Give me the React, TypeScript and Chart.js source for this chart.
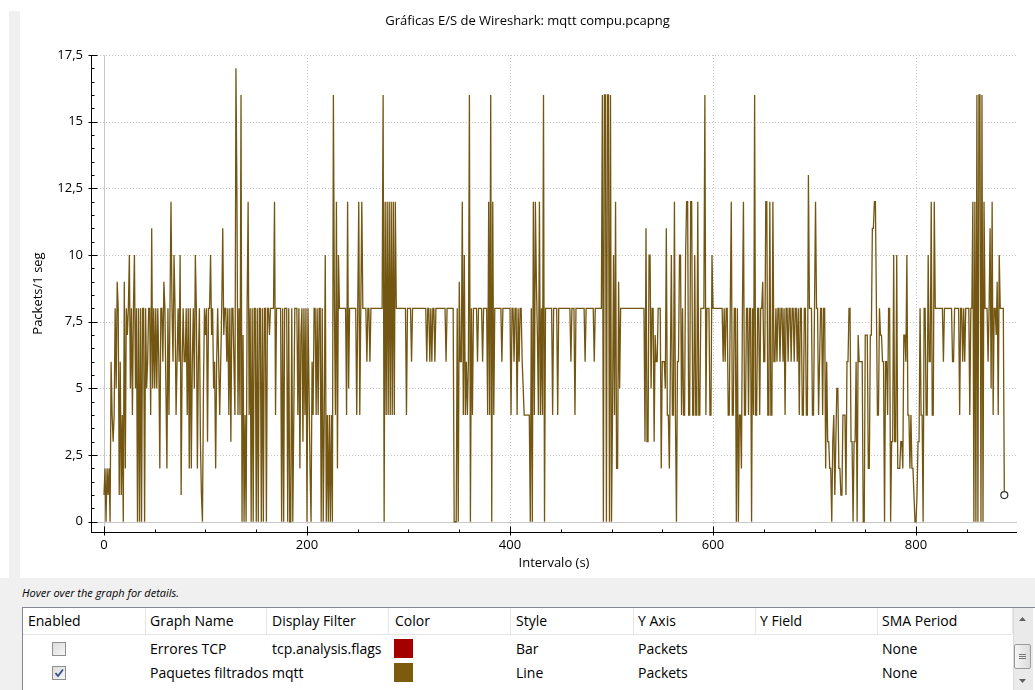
import React, { useEffect, useRef } from 'react';
import { Chart, registerables } from 'chart.js';

Chart.register(...registerables);

// ---- Data (packets per 1 s interval, "mqtt" filter) ----
const PACKETS_000_153 = [
  1, 2, 0, 2, 1, 2, 0, 6, 4, 3,
  4, 8, 5, 9, 8, 1, 6, 1, 4, 0,
  9, 2, 8, 7, 8, 10, 5, 8, 4, 8,
  10, 5, 8, 0, 8, 0, 8, 0, 8, 8,
  0, 8, 5, 6, 8, 8, 4, 11, 5, 8,
  5, 8, 5, 8, 6, 2, 8, 8, 6, 9,
  8, 5, 2, 8, 4, 8, 12, 8, 6, 10,
  8, 4, 6, 8, 6, 10, 1, 6, 8, 6,
  6, 8, 4, 8, 2, 8, 2, 6, 8, 5,
  10, 8, 2, 6, 8, 3, 1, 0, 5, 8,
  7, 8, 3, 8, 8, 10, 7, 8, 5, 6,
  2, 6, 8, 6, 4, 6, 8, 11, 7, 8,
  8, 6, 8, 4, 8, 3, 8, 8, 6, 4,
  17, 12, 4, 8, 4, 16, 0, 7, 0, 4,
  0, 8, 12, 4, 8, 0, 8, 0, 8, 8,
  0, 8, 0, 8,
];
const PACKETS_154_305 = [
  8, 0, 8, 0, 8, 8, 0, 8, 8, 7,
  8, 8, 8, 8, 12, 4, 8, 8, 8, 8,
  8, 0, 8, 0, 8, 8, 8, 0, 8, 0,
  0, 8, 0, 4, 8, 8, 8, 4, 8, 2,
  7, 8, 3, 8, 4, 8, 0, 8, 5, 2,
  0, 6, 4, 8, 8, 4, 8, 4, 8, 8,
  0, 8, 0, 4, 10, 0, 4, 0, 4, 0,
  4, 0, 16, 8, 4, 12, 2, 10, 8, 8,
  8, 8, 8, 8, 8, 4, 12, 5, 8, 8,
  8, 8, 8, 8, 8, 4, 8, 12, 4, 8,
  12, 8, 8, 8, 8, 6, 8, 8, 6, 8,
  8, 8, 8, 8, 8, 8, 8, 8, 8, 8,
  8, 16, 0, 12, 4, 12, 4, 12, 4, 12,
  4, 12, 4, 12, 8, 8, 8, 8, 8, 8,
  8, 8, 8, 8, 4, 8, 8, 8, 8, 6,
  8, 8,
];
const PACKETS_306_457 = [
  8, 8, 8, 8, 8, 8, 8, 8, 8, 8,
  8, 8, 6, 8, 8, 6, 8, 6, 8, 8,
  6, 8, 8, 8, 8, 8, 8, 8, 8, 8,
  8, 6, 8, 8, 8, 8, 8, 8, 8, 0,
  0, 0, 8, 0, 9, 6, 6, 12, 4, 10,
  4, 6, 4, 6, 16, 0, 8, 4, 8, 8,
  8, 8, 6, 8, 8, 8, 8, 6, 8, 8,
  8, 8, 4, 12, 4, 16, 0, 12, 4, 8,
  8, 8, 8, 8, 8, 8, 6, 8, 8, 8,
  8, 8, 8, 8, 8, 4, 8, 8, 6, 8,
  8, 4, 8, 6, 8, 8, 6, 5, 4, 4,
  4, 4, 4, 4, 0, 8, 0, 12, 4, 12,
  9, 7, 4, 12, 4, 8, 4, 16, 0, 8,
  8, 8, 8, 8, 8, 8, 4, 8, 8, 8,
  8, 4, 8, 8, 8, 8, 8, 8, 8, 8,
  8, 8,
];
const PACKETS_458_607 = [
  8, 8, 6, 8, 8, 8, 4, 8, 8, 8,
  8, 8, 8, 8, 8, 8, 6, 8, 8, 8,
  8, 8, 8, 8, 8, 6, 8, 8, 8, 8,
  8, 8, 8, 16, 0, 16, 16, 0, 16, 16,
  0, 16, 0, 4, 10, 4, 12, 2, 2, 9,
  5, 8, 8, 8, 8, 8, 8, 8, 8, 8,
  8, 8, 8, 8, 8, 8, 8, 8, 8, 8,
  8, 8, 8, 8, 8, 3, 11, 3, 3, 10,
  10, 5, 8, 8, 3, 7, 6, 6, 8, 8,
  8, 2, 6, 6, 6, 5, 11, 4, 4, 2,
  6, 10, 4, 4, 12, 4, 0, 6, 6, 10,
  10, 4, 8, 4, 4, 10, 12, 12, 4, 4,
  12, 12, 4, 4, 10, 4, 4, 12, 4, 4,
  8, 8, 8, 8, 16, 4, 8, 8, 8, 4,
  4, 10, 8, 8, 8, 8, 8, 8, 8, 8,
];
const PACKETS_608_757 = [
  8, 8, 6, 8, 6, 8, 8, 4, 4, 8,
  12, 4, 4, 8, 8, 0, 8, 0, 4, 4,
  2, 8, 12, 4, 4, 8, 8, 4, 8, 8,
  0, 8, 4, 16, 4, 4, 8, 8, 4, 8,
  8, 9, 6, 6, 12, 12, 4, 4, 12, 4,
  4, 12, 6, 6, 8, 6, 8, 8, 6, 8,
  8, 6, 8, 4, 8, 8, 6, 8, 8, 6,
  8, 8, 6, 8, 8, 6, 8, 4, 8, 8,
  4, 4, 8, 8, 4, 4, 13, 8, 8, 8,
  4, 4, 8, 12, 8, 8, 4, 6, 8, 8,
  4, 8, 8, 2, 6, 3, 3, 2, 2, 0,
  3, 4, 1, 3, 5, 5, 2, 2, 1, 1,
  4, 4, 4, 1, 6, 6, 8, 8, 3, 3,
  0, 3, 3, 6, 0, 7, 6, 6, 6, 6,
  0, 0, 7, 7, 7, 2, 2, 7, 7, 11,
];
const PACKETS_758_887 = [
  11, 12, 12, 8, 4, 4, 8, 7, 7, 6,
  6, 0, 6, 6, 4, 8, 8, 0, 3, 3,
  10, 3, 3, 10, 2, 2, 2, 3, 3, 2,
  7, 7, 6, 10, 4, 4, 2, 4, 2, 2,
  1, 0, 0, 1, 3, 3, 8, 4, 4, 0,
  8, 8, 4, 4, 10, 6, 6, 12, 4, 4,
  12, 8, 8, 8, 8, 8, 8, 8, 8, 6,
  8, 8, 8, 8, 8, 8, 8, 8, 6, 6,
  8, 8, 8, 8, 8, 4, 8, 8, 6, 8,
  6, 8, 8, 8, 8, 4, 8, 8, 12, 0,
  12, 0, 16, 0, 16, 16, 0, 16, 0, 12,
  8, 8, 8, 6, 8, 11, 5, 12, 4, 8,
  8, 7, 9, 4, 10, 8, 8, 8, 8, 1,
];

const X_TICKS = [0, 200, 400, 600, 800];
const Y_TICKS = [0, 2.5, 5, 7.5, 10, 12.5, 15, 17.5];

const PACKETS = [
  ...PACKETS_000_153,
  ...PACKETS_154_305,
  ...PACKETS_306_457,
  ...PACKETS_458_607,
  ...PACKETS_608_757,
  ...PACKETS_758_887,
];
const SECONDS = PACKETS.map((_, i) => i);

const LINE_COLOR = '#735611';
const SWATCH_COLOR = '#7c5c0c';
const RED_COLOR = '#a40000';
const FONT = '"Open Sans", "Noto Sans", sans-serif';

const qcpAxes = {
  id: 'qcpAxes',
  beforeDatasetsDraw(chart: any) {
    const { ctx, chartArea: a, scales } = chart;
    const x = scales.x;
    const y = scales.y;
    const seg = (x1: number, y1: number, x2: number, y2: number) => {
      ctx.beginPath();
      ctx.moveTo(x1, y1);
      ctx.lineTo(x2, y2);
      ctx.stroke();
    };
    ctx.save();
    ctx.lineWidth = 1;
    ctx.strokeStyle = '#c6c6c6';
    ctx.setLineDash([1, 2]);
    Y_TICKS.forEach((v) => {
      if (v === 0) return;
      const py = Math.round(y.getPixelForValue(v)) + 0.5;
      seg(a.left, py, a.right, py);
    });
    X_TICKS.forEach((v) => {
      if (v === 0) return;
      const px = Math.round(x.getPixelForValue(v)) + 0.5;
      seg(px, a.top, px, a.bottom);
    });
    ctx.setLineDash([]);
    ctx.strokeStyle = '#c8c8c8';
    const zy = Math.round(y.getPixelForValue(0)) + 0.5;
    seg(a.left, zy, a.right, zy);
    const zx = Math.round(x.getPixelForValue(0)) + 0.5;
    seg(zx, a.top, zx, a.bottom);
    ctx.restore();
  },
  afterDatasetsDraw(chart: any) {
    const { ctx, chartArea: a, scales } = chart;
    const x = scales.x;
    const y = scales.y;
    const seg = (x1: number, y1: number, x2: number, y2: number) => {
      ctx.beginPath();
      ctx.moveTo(x1, y1);
      ctx.lineTo(x2, y2);
      ctx.stroke();
    };
    ctx.save();
    ctx.lineWidth = 1;
    ctx.strokeStyle = '#000';
    const lx = Math.round(a.left) + 0.5;
    const by = Math.round(a.bottom) + 0.5;
    seg(lx, a.top, lx, a.bottom + 0.5);
    seg(a.left, by, a.right, by);
    for (let v = 0; v <= 17.5 + 1e-9; v += 0.5) {
      const py = Math.round(y.getPixelForValue(v)) + 0.5;
      const major = Math.abs(v / 2.5 - Math.round(v / 2.5)) < 1e-9;
      if (major) seg(lx - 3, py, lx + 6, py);
      else seg(lx, py, lx + 3, py);
    }
    for (let v = 0; v <= 850; v += 50) {
      const px = Math.round(x.getPixelForValue(v)) + 0.5;
      if (v % 200 === 0) seg(px, by - 6, px, by + 3);
      else seg(px, by - 3, px, by);
    }
    ctx.restore();
  },
};

function PlotCanvas() {
  const ref = useRef<HTMLCanvasElement | null>(null);
  useEffect(() => {
    if (!ref.current) return;
    const lastIdx = PACKETS.length - 1;
    const chart = new Chart(ref.current, {
      type: 'line',
      data: {
        datasets: [
          {
            label: 'Paquetes filtrados',
            data: SECONDS.map((s, i) => ({ x: s, y: PACKETS[i] })),
            borderColor: LINE_COLOR,
            borderWidth: 1.3,
            tension: 0,
            fill: false,
            pointRadius: PACKETS.map((_, i) => (i === lastIdx ? 3.5 : 0)),
            pointBackgroundColor: '#ffffff',
            pointBorderColor: '#333333',
            pointBorderWidth: 1.2,
          },
        ],
      },
      options: {
        animation: false,
        responsive: false,
        events: [],
        layout: { padding: { top: 55, right: 18, left: 0, bottom: 0 } },
        plugins: {
          legend: { display: false },
          tooltip: { enabled: false },
          title: { display: false },
        },
        scales: {
          x: {
            type: 'linear',
            min: -12.8,
            max: 899.5,
            afterBuildTicks: (s: any) => {
              s.ticks = X_TICKS.map((v) => ({ value: v }));
            },
            afterFit: (s: any) => {
              s.height = 46;
            },
            grid: { display: false, drawTicks: false },
            border: { display: false },
            ticks: {
              padding: 5,
              color: '#000',
              font: { family: FONT, size: 13 },
              maxRotation: 0,
              autoSkip: false,
            },
            title: {
              display: true,
              text: 'Intervalo (s)',
              color: '#000',
              font: { family: FONT, size: 13 },
              padding: { top: 0, bottom: 7 },
            },
          },
          y: {
            type: 'linear',
            min: -0.385,
            max: 17.5,
            afterBuildTicks: (s: any) => {
              s.ticks = Y_TICKS.map((v) => ({ value: v }));
            },
            afterFit: (s: any) => {
              s.width = 71;
            },
            grid: { display: false, drawTicks: false },
            border: { display: false },
            ticks: {
              padding: 8,
              color: '#000',
              font: { family: FONT, size: 13 },
              callback: (v: any) => String(v).replace('.', ','),
            },
            title: {
              display: true,
              text: 'Packets/1 seg',
              color: '#000',
              font: { family: FONT, size: 13 },
              padding: { top: 10, bottom: 0 },
            },
          },
        },
      },
      plugins: [qcpAxes],
    } as any);
    return () => chart.destroy();
  }, []);
  return <canvas ref={ref} width={1015} height={578} style={{ display: 'block' }} />;
}

function CheckBox({ checked, top }: { checked: boolean; top: number }) {
  return (
    <div
      style={{
        position: 'absolute',
        left: 52,
        top,
        width: 12,
        height: 12,
        border: '1px solid #8e8f8f',
        background: 'linear-gradient(135deg, #dcdcdc 0%, #f6f6f6 100%)',
      }}
    >
      {checked && (
        <svg width="12" height="12" style={{ position: 'absolute', left: 0, top: 0 }}>
          <path d="M2.5 6 L5 9 L10 2.5" stroke="#3a4f8f" strokeWidth="1.8" fill="none" />
        </svg>
      )}
    </div>
  );
}

const COL_BORDERS = [145, 266, 388, 510, 633, 755, 877, 1012];
const HEADERS = [
  { text: 'Enabled', left: 28 },
  { text: 'Graph Name', left: 150 },
  { text: 'Display Filter', left: 272 },
  { text: 'Color', left: 395 },
  { text: 'Style', left: 516 },
  { text: 'Y Axis', left: 638 },
  { text: 'Y Field', left: 760 },
  { text: 'SMA Period', left: 882 },
];

function Txt({ left, top, children }: { left: number; top: number; children: React.ReactNode }) {
  return (
    <div
      style={{
        position: 'absolute',
        left,
        top,
        fontSize: 14,
        lineHeight: '20px',
        color: '#000',
        whiteSpace: 'nowrap',
      }}
    >
      {children}
    </div>
  );
}

export default function App() {
  return (
    <div
      style={{
        position: 'fixed',
        left: 0,
        top: 0,
        width: 1035,
        height: 690,
        background: '#f0f0f0',
        overflow: 'hidden',
        fontFamily: FONT,
      }}
    >
      <div style={{ position: 'absolute', left: 0, top: 0, width: 9, height: 578, background: '#fff' }} />
      <div style={{ position: 'absolute', left: 9, top: 0, width: 11, height: 11, background: '#fff' }} />
      <div style={{ position: 'absolute', left: 20, top: 0, width: 1015, height: 578, background: '#fff' }}>
        <div
          style={{
            position: 'absolute',
            left: 0,
            top: 11,
            width: 1015,
            textAlign: 'center',
            fontSize: 13,
            lineHeight: '18px',
            color: '#000',
          }}
        >
          Gráficas E/S de Wireshark: mqtt compu.pcapng
        </div>
        <PlotCanvas />
      </div>

      <div
        style={{
          position: 'absolute',
          left: 22,
          top: 585,
          fontSize: 11,
          fontStyle: 'italic',
          lineHeight: '16px',
          color: '#000',
        }}
      >
        Hover over the graph for details.
      </div>

      <div
        style={{
          position: 'absolute',
          left: 22,
          top: 607,
          width: 1013,
          height: 90,
          background: '#fff',
          borderLeft: '1px solid #828790',
          borderTop: '1px solid #828790',
        }}
      />
      <div style={{ position: 'absolute', left: 23, top: 634, width: 989, height: 1, background: '#e5e5e5' }} />
      {COL_BORDERS.map((bx) => (
        <div key={bx} style={{ position: 'absolute', left: bx, top: 608, width: 1, height: 26, background: '#e5e5e5' }} />
      ))}
      {HEADERS.map((h) => (
        <Txt key={h.text} left={h.left} top={611}>
          {h.text}
        </Txt>
      ))}

      <CheckBox checked={false} top={642} />
      <Txt left={150} top={639}>Errores TCP</Txt>
      <Txt left={272} top={639}>tcp.analysis.flags</Txt>
      <div style={{ position: 'absolute', left: 394, top: 639, width: 19, height: 19, background: RED_COLOR }} />
      <Txt left={516} top={639}>Bar</Txt>
      <Txt left={638} top={639}>Packets</Txt>
      <Txt left={882} top={639}>None</Txt>

      <CheckBox checked={true} top={666} />
      <Txt left={150} top={663}>Paquetes filtrados</Txt>
      <Txt left={272} top={663}>mqtt</Txt>
      <div style={{ position: 'absolute', left: 394, top: 663, width: 19, height: 19, background: SWATCH_COLOR }} />
      <Txt left={516} top={663}>Line</Txt>
      <Txt left={638} top={663}>Packets</Txt>
      <Txt left={882} top={663}>None</Txt>

      <div style={{ position: 'absolute', left: 1013, top: 608, width: 19, height: 90, background: '#eaeaea', borderLeft: '1px solid #dcdcdc' }} />
      <svg style={{ position: 'absolute', left: 1013, top: 612 }} width="19" height="14">
        <path d="M6 9 L9.5 5 L13 9 Z" fill="#606060" />
      </svg>
      <div
        style={{
          position: 'absolute',
          left: 1014,
          top: 644,
          width: 15,
          height: 23,
          border: '1px solid #9a9a9a',
          borderRadius: 2,
          background: 'linear-gradient(90deg, #f4f4f4 0%, #dcdcdc 100%)',
        }}
      >
        <svg width="15" height="23" style={{ position: 'absolute', left: 0, top: 0 }}>
          <path d="M4 9.5 H11 M4 11.5 H11 M4 13.5 H11" stroke="#777" strokeWidth="1" />
        </svg>
      </div>
      <svg style={{ position: 'absolute', left: 1013, top: 674 }} width="19" height="14">
        <path d="M6 5 L9.5 9 L13 5 Z" fill="#606060" />
      </svg>
    </div>
  );
}
